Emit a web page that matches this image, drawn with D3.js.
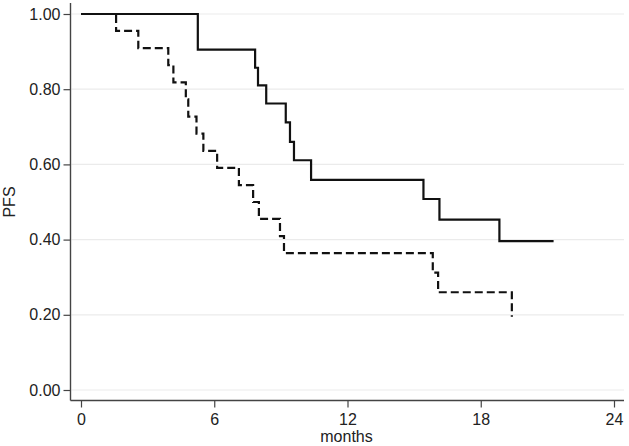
<!DOCTYPE html>
<html><head><meta charset="utf-8">
<script src="https://cdn.jsdelivr.net/npm/d3@7"></script>
<style>body{margin:0;background:#fff}svg{display:block}text{font-family:"Liberation Sans",Arial,sans-serif;fill:#222}</style>
</head><body><svg id="c" width="629" height="446"></svg>
<script>
const xTicks = [0, 6, 12, 18, 24];
const yTicks = [0, 0.2, 0.4, 0.6, 0.8, 1.0];
const solidTimes = [0, 5.26, 7.84, 7.97, 8.34, 9.22, 9.41, 9.59, 10.36, 15.42, 16.14, 18.84, 21.28];
const solidValues = [1, 0.905, 0.857, 0.810, 0.762, 0.712, 0.660, 0.611, 0.559, 0.508, 0.453, 0.396, 0.396];
const dashTimes = [0, 1.58, 2.58, 3.93, 4.16, 4.72, 4.83, 5.2, 5.51, 6.13, 7.11, 7.75, 8.01, 8.96, 9.14, 15.84, 16.08, 19.40];
const dashValues = [1, 0.955, 0.909, 0.864, 0.818, 0.773, 0.727, 0.682, 0.636, 0.591, 0.545, 0.5, 0.455, 0.409, 0.364, 0.312, 0.260, 0.195];
const xLabel = "months", yLabel = "PFS";

const svg = d3.select("#c");
const x = d3.scaleLinear().domain([0, 24]).range([81, 614]);
const y = d3.scaleLinear().domain([0, 1]).range([390, 14]);
const pLeft = 70.5, pRight = 624, pTop = 3, pBottom = 400.5;
const fs = "16px";

// gridlines
svg.append("g").selectAll("line").data(yTicks).join("line")
  .attr("x1", pLeft + 1).attr("x2", pRight)
  .attr("y1", d => y(d)).attr("y2", d => y(d))
  .attr("stroke", "#ebebeb").attr("stroke-width", 1.2);

// axes
const yAxis = svg.append("g").attr("transform", `translate(${pLeft},0)`)
  .call(d3.axisLeft(y).tickValues(yTicks).tickFormat(d3.format(".2f")).tickSize(7).tickPadding(3));
const xAxis = svg.append("g").attr("transform", `translate(0,${pBottom})`)
  .call(d3.axisBottom(x).tickValues(xTicks).tickFormat(d3.format("d")).tickSize(7).tickPadding(6.5));
[yAxis, xAxis].forEach(g => {
  g.select(".domain").remove();
  g.selectAll("line").attr("stroke", "#444").attr("stroke-width", 1.2);
  g.selectAll("text").style("font-size", fs).attr("fill", "#1a1a1a");
});
svg.append("line").attr("x1", pLeft).attr("x2", pLeft).attr("y1", pTop).attr("y2", pBottom)
  .attr("stroke", "#444").attr("stroke-width", 1.4);
svg.append("line").attr("x1", pLeft).attr("x2", pRight).attr("y1", pBottom).attr("y2", pBottom)
  .attr("stroke", "#444").attr("stroke-width", 1.4);

// curves
const line = d3.line().x(d => x(d[0])).y(d => y(d[1])).curve(d3.curveStepAfter);
svg.append("path").datum(d3.zip(solidTimes, solidValues))
  .attr("d", line).attr("fill", "none").attr("stroke", "#111").attr("stroke-width", 2.2);
svg.append("path").datum(d3.zip(dashTimes, dashValues))
  .attr("d", line).attr("fill", "none").attr("stroke", "#111").attr("stroke-width", 2.2)
  .attr("stroke-dasharray", "8,4");

// labels
svg.append("text").attr("x", 346.5).attr("y", 441.5).attr("text-anchor", "middle")
  .style("font-size", fs).attr("fill", "#1a1a1a").text(xLabel);
svg.append("text").attr("transform", "translate(14.5,202) rotate(-90)").attr("text-anchor", "middle")
  .style("font-size", fs).attr("fill", "#1a1a1a").text(yLabel);
</script></body></html>
